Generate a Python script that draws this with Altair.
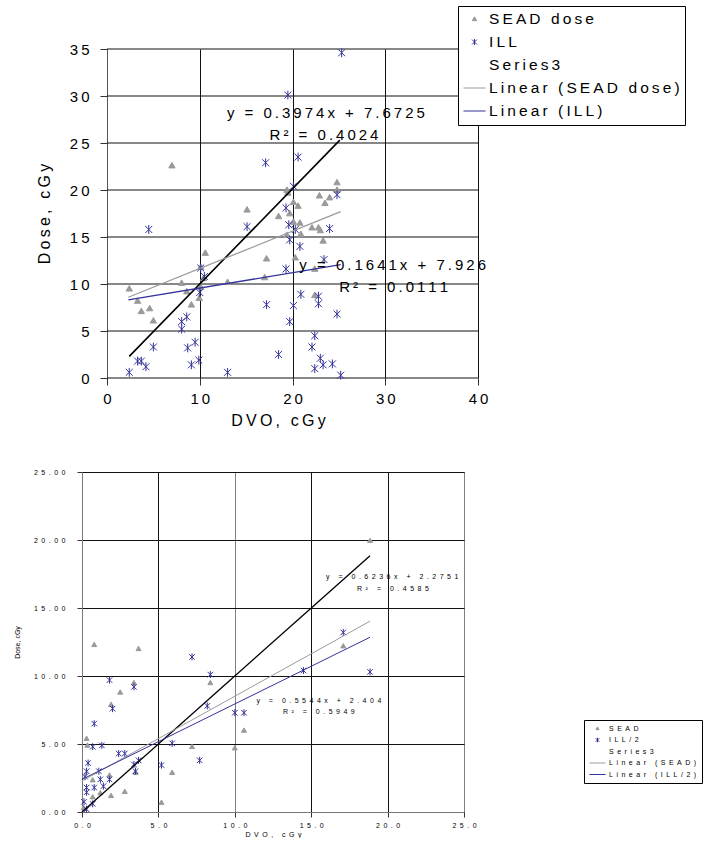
import altair as alt
import pandas as pd

FONT = "Liberation Sans"
THIN = "\u2009"
EN = "\u2002"
GRAY = "#9a9a9a"
BLUE = "#333399"
GRID = "#111111"


def spaced(s, sep):
    return sep.join(list(s))


# ---------------- top chart data ----------------
top_series = ["SEAD dose", "ILL", "Series3", "Linear (SEAD dose)", "Linear (ILL)"]

top_sead_x = [2.4, 3.3, 3.7, 4.6, 5.0, 7.0, 8.05, 8.6, 9.1, 9.95, 10.1, 10.1, 10.4, 10.6,
              13.0, 15.1, 17.0, 17.2, 18.5, 19.4, 19.5, 19.7, 20.1, 20.6, 20.1, 20.8,
              19.4, 20.9, 20.3, 22.1, 22.8, 23.0, 22.9, 24.0, 23.5, 23.3, 22.4, 22.4,
              24.8, 24.8]
top_sead_y = [9.5, 8.2, 7.1, 7.4, 6.1, 22.6, 10.1, 9.2, 7.8, 8.5, 9.7, 11.8, 10.6, 13.3,
              10.2, 17.9, 10.7, 12.7, 17.2, 20.0, 19.7, 17.5, 18.7, 18.3, 16.6, 16.5,
              15.2, 15.3, 12.8, 16.0, 16.0, 15.7, 19.4, 19.2, 18.6, 14.6, 11.6, 8.8,
              20.8, 20.0]

top_ill_x = [2.4, 3.3, 3.7, 4.2, 5.0, 4.5, 8.05, 8.05, 8.6, 8.7, 9.5, 9.1, 9.9, 10.0,
             10.1, 10.5, 13.0, 15.1, 17.1, 17.2, 18.5, 19.3, 19.3, 19.5, 19.6, 19.7,
             19.7, 20.1, 20.1, 20.3, 20.6, 20.8, 20.9, 22.1, 22.4, 22.4, 22.8, 22.8,
             23.0, 23.3, 23.4, 24.0, 24.3, 24.8, 24.8, 25.2, 25.3]
top_ill_y = [0.6, 1.8, 1.8, 1.2, 3.3, 15.8, 6.0, 5.2, 6.5, 3.2, 3.8, 1.4, 1.9, 9.1,
             11.7, 10.8, 0.6, 16.1, 22.9, 7.8, 2.5, 18.1, 11.6, 30.1, 16.3, 14.7,
             6.0, 20.4, 7.7, 15.8, 23.5, 14.0, 8.9, 3.3, 4.5, 1.0, 8.7, 7.9,
             2.1, 1.4, 12.6, 15.9, 1.5, 19.5, 6.8, 0.3, 34.6]

top_identity_x = [2.4, 25.1]
top_identity_y = [2.3, 25.3]
top_trend_x = [2.3, 25.2]
top_trend_sead_y = [8.59, 17.69]
top_trend_ill_y = [8.30, 12.06]

top_eq_text = ["y = 0.3974x + 7.6725", "R² = 0.4024", "y = 0.1641x + 7.926", "R² = 0.0111"]
top_eq_x = [23.6, 23.4, 30.8, 30.9]
top_eq_y = [28.2, 25.85, 12.0, 9.7]

top_x_ticks = [0, 10, 20, 30, 40]
top_y_ticks = [0, 5, 10, 15, 20, 25, 30, 35]

# ---------------- bottom chart data ----------------
bot_series = ["SEAD", "ILL/2", "Series3", "Linear (SEAD)", "Linear (ILL/2)"]

bot_sead_x = [0.8, 3.7, 3.4, 2.5, 1.9, 8.4, 0.3, 0.35, 7.2, 10.0, 10.6, 5.9, 1.8, 0.7,
              1.9, 2.8, 5.2, 1.2, 3.5, 0.7, 17.1, 18.85, 0.1]
bot_sead_y = [12.3, 12.0, 9.5, 8.8, 7.9, 9.5, 5.4, 4.9, 4.8, 4.7, 6.0, 2.9, 2.7, 2.35,
              1.2, 1.5, 0.7, 1.4, 2.9, 1.1, 12.2, 19.95, 0.3]

bot_ill_x = [7.2, 8.4, 1.8, 3.4, 2.0, 0.8, 8.2, 10.0, 10.6, 5.9, 7.7, 5.2, 1.3, 0.7,
             0.4, 2.4, 2.8, 3.4, 3.7, 3.5, 0.3, 1.1, 0.2, 1.2, 1.8, 0.3, 0.8, 1.4,
             0.3, 0.13, 0.7, 0.3, 17.1, 14.5, 18.85]
bot_ill_y = [11.4, 10.1, 9.7, 9.2, 7.6, 6.5, 7.8, 7.3, 7.3, 5.05, 3.8, 3.45, 4.9, 4.8,
             3.6, 4.3, 4.3, 3.5, 3.8, 3.0, 3.0, 3.0, 2.6, 2.4, 2.4, 1.8, 1.8, 1.9,
             1.45, 0.75, 0.6, 0.2, 13.2, 10.4, 10.3]

bot_identity_x = [0.0, 18.85]
bot_identity_y = [0.0, 18.85]
bot_trend_x = [0.0, 18.85]
bot_trend_sead_y = [2.28, 14.03]
bot_trend_ill_y = [2.40, 12.85]

bot_eq_text = ["y = 0.6236x + 2.2751", "R² = 0.4585", "y = 0.5544x + 2.404", "R² = 0.5949"]
bot_eq_x = [20.3, 20.35, 15.5, 15.5]
bot_eq_y = [17.3, 16.4, 8.16, 7.35]

bot_x_ticks = [0, 5, 10, 15, 20, 25]
bot_y_ticks = [0, 5, 10, 15, 20, 25]

# ---------------- marker shapes ----------------
TRI = "M0,-0.2L0.2,0.15L-0.2,0.15Z"
AST = "M0,-0.28L0,0.28M-0.22,-0.22L0.22,0.22M-0.22,0.22L0.22,-0.22"
LINE = "M-1,0L1,0"
NONE = "M0,0L0,0"


def scales(series):
    fill_scale = alt.Scale(domain=series, range=[GRAY, "transparent", "transparent",
                                                 "transparent", "transparent"])
    stroke_scale = alt.Scale(domain=series, range=[GRAY, BLUE, "transparent", GRAY, BLUE])
    shape_scale = alt.Scale(domain=series, range=[TRI, AST, NONE, LINE, LINE])
    return fill_scale, stroke_scale, shape_scale


def frames(series, sead_x, sead_y, ill_x, ill_y, id_x, id_y, tr_x, tr_s, tr_i,
           eq_text, eq_x, eq_y, sep):
    pts = pd.DataFrame({
        "x": sead_x + ill_x,
        "y": sead_y + ill_y,
        "series": [series[0]] * len(sead_x) + [series[1]] * len(ill_x),
    })
    trends = pd.DataFrame({
        "x": tr_x + tr_x,
        "y": tr_s + tr_i,
        "series": [series[3]] * 2 + [series[4]] * 2,
    })
    ident = pd.DataFrame({"x": id_x, "y": id_y})
    eqs = pd.DataFrame({"x": eq_x, "y": eq_y,
                        "t": [spaced(t, sep) for t in eq_text]})
    return pts, trends, ident, eqs


# ================= TOP CHART =================
T_ORIGIN_SHIFT = 25  # plot area starts 25px left of the x=0 line (shared left edge)
T_W = 396
T_H = 329
t_xmin = -T_ORIGIN_SHIFT * 40 / (T_W - T_ORIGIN_SHIFT)

pts, trends, ident, eqs = frames(top_series, top_sead_x, top_sead_y, top_ill_x, top_ill_y,
                                 top_identity_x, top_identity_y, top_trend_x,
                                 top_trend_sead_y, top_trend_ill_y,
                                 top_eq_text, top_eq_x, top_eq_y, THIN)
t_label_expr = "join(split(datum.label, ''), '%s')" % THIN
t_legend = alt.Legend(
    title=None, orient="none", legendX=376, legendY=-43,
    labelFont=FONT, labelFontSize=15.5, labelColor="black", labelLimit=400,
    labelExpr=t_label_expr, symbolSize=484, symbolStrokeWidth=1, clipHeight=16,
    strokeColor="black", fillColor="white", padding=5, rowPadding=6,
    labelOffset=3, cornerRadius=0,
)
fs, ss, shs = scales(top_series)
tX = alt.X("x:Q", scale=alt.Scale(domain=[t_xmin, 40], nice=False, zero=False),
           axis=alt.Axis(values=top_x_ticks, format="d", title=spaced("DVO, cGy", THIN),
                         titleFont=FONT, titleFontSize=16, titleFontWeight="normal",
                         titleColor="black", titlePadding=6, titleX=196,
                         labelFont=FONT, labelFontSize=15, labelColor="black",
                         labelExpr=t_label_expr, labelPadding=6, tickSize=7,
                         grid=True, gridColor=GRID, tickColor="#333333",
                         domain=False, labelFlush=False, labelOverlap=False))
tY = alt.Y("y:Q", scale=alt.Scale(domain=[0, 35], nice=False, zero=False),
           axis=alt.Axis(values=top_y_ticks, format="d", title=spaced("Dose, cGy", THIN),
                         titleFont=FONT, titleFontSize=16, titleFontWeight="normal",
                         titleColor="black", titlePadding=17, offset=-T_ORIGIN_SHIFT,
                         labelFont=FONT, labelFontSize=15, labelColor="black",
                         labelExpr=t_label_expr, labelPadding=11, tickSize=7,
                         grid=False, tickColor="#333333", domainColor="#555555",
                         labelFlush=False, labelOverlap=False))

t_hgrid = alt.Chart(pd.DataFrame({"y": top_y_ticks})).mark_rule(
    color=GRID, strokeWidth=1).encode(
    y=alt.Y("y:Q"), x=alt.datum(top_x_ticks[0]), x2=alt.datum(top_x_ticks[-1]))
t_pts = alt.Chart(pts).mark_point(size=1000, strokeWidth=1, opacity=1).encode(
    x=tX, y=tY,
    fill=alt.Fill("series:N", scale=fs, legend=t_legend),
    stroke=alt.Stroke("series:N", scale=ss, legend=t_legend),
    shape=alt.Shape("series:N", scale=shs, legend=t_legend),
)
t_ident = alt.Chart(ident).mark_line(color="black", strokeWidth=1.6).encode(
    x="x:Q", y="y:Q")
t_trend = alt.Chart(trends).mark_line(strokeWidth=1.3).encode(
    x="x:Q", y="y:Q", stroke=alt.Stroke("series:N", scale=ss, legend=t_legend))
t_eq = alt.Chart(eqs).mark_text(font=FONT, fontSize=15, color="black",
                                align="center", baseline="middle").encode(
    x="x:Q", y="y:Q", text="t:N")
top = alt.layer(t_hgrid, t_pts, t_ident, t_trend, t_eq).properties(
    width=T_W, height=T_H, view=alt.ViewBackground(stroke="transparent"))

# ================= BOTTOM CHART =================
pts, trends, ident, eqs = frames(bot_series, bot_sead_x, bot_sead_y, bot_ill_x, bot_ill_y,
                                 bot_identity_x, bot_identity_y, bot_trend_x,
                                 bot_trend_sead_y, bot_trend_ill_y,
                                 bot_eq_text, bot_eq_x, bot_eq_y, EN)
b_label_expr = "join(split(datum.label, ''), '%s')" % EN
b_legend = alt.Legend(
    title=None, orient="none", legendX=502, legendY=248,
    labelFont=FONT, labelFontSize=7, labelColor="black", labelLimit=400,
    labelExpr=b_label_expr, symbolSize=256, symbolStrokeWidth=1, clipHeight=7,
    strokeColor="black", fillColor="white", padding=5, rowPadding=3.5,
    labelOffset=3, cornerRadius=0,
)
fs, ss, shs = scales(bot_series)
b_grid_color = {"condition": {"test": "datum.value === 10 || datum.value === 25",
                              "value": "#808080"}, "value": GRID}
bX = alt.X("x:Q", scale=alt.Scale(domain=[0, 25], nice=False, zero=False),
           axis=alt.Axis(values=bot_x_ticks, format=".1f", title=spaced("DVO, cGy", EN),
                         titleFont=FONT, titleFontSize=7, titleFontWeight="normal",
                         titleColor="black", titlePadding=2,
                         labelFont=FONT, labelFontSize=7, labelColor="black",
                         labelExpr=b_label_expr, labelPadding=4, tickSize=5,
                         grid=True, gridColor=b_grid_color, tickColor="#333333",
                         domainColor="#777777", labelFlush=False, labelOverlap=False))
bY = alt.Y("y:Q", scale=alt.Scale(domain=[0, 25], nice=False, zero=False),
           axis=alt.Axis(values=bot_y_ticks, format=".2f", title="Dose, cGy",
                         titleFont=FONT, titleFontSize=7, titleFontWeight="normal",
                         titleColor="black", titlePadding=13,
                         labelFont=FONT, labelFontSize=7, labelColor="black",
                         labelExpr=b_label_expr, labelPadding=12, tickSize=5,
                         grid=True, gridColor=GRID, tickColor="#333333",
                         domainColor="#777777", labelFlush=False, labelOverlap=False))
b_pts = alt.Chart(pts).mark_point(size=625, strokeWidth=1, opacity=1).encode(
    x=bX, y=bY,
    fill=alt.Fill("series:N", scale=fs, legend=b_legend),
    stroke=alt.Stroke("series:N", scale=ss, legend=b_legend),
    shape=alt.Shape("series:N", scale=shs, legend=b_legend),
)
b_ident = alt.Chart(ident).mark_line(color="black", strokeWidth=1.3).encode(
    x="x:Q", y="y:Q")
b_trend = alt.Chart(trends).mark_line(strokeWidth=1).encode(
    x="x:Q", y="y:Q", stroke=alt.Stroke("series:N", scale=ss, legend=b_legend))
b_eq = alt.Chart(eqs).mark_text(font=FONT, fontSize=7, color="black",
                                align="center", baseline="middle").encode(
    x="x:Q", y="y:Q", text="t:N")
bottom = alt.layer(b_pts, b_ident, b_trend, b_eq).properties(width=382, height=340)

chart = alt.vconcat(top, bottom, spacing=38).resolve_scale(
    x="independent", y="independent", fill="independent",
    stroke="independent", shape="independent"
).resolve_legend(
    fill="independent", stroke="independent", shape="independent"
).configure_view(stroke="#333333").properties(
    padding={"left": 12, "top": 5, "right": 0, "bottom": 0},
    background="white",
)

chart.save("out.html", embed_options={"renderer": "svg", "actions": False})
